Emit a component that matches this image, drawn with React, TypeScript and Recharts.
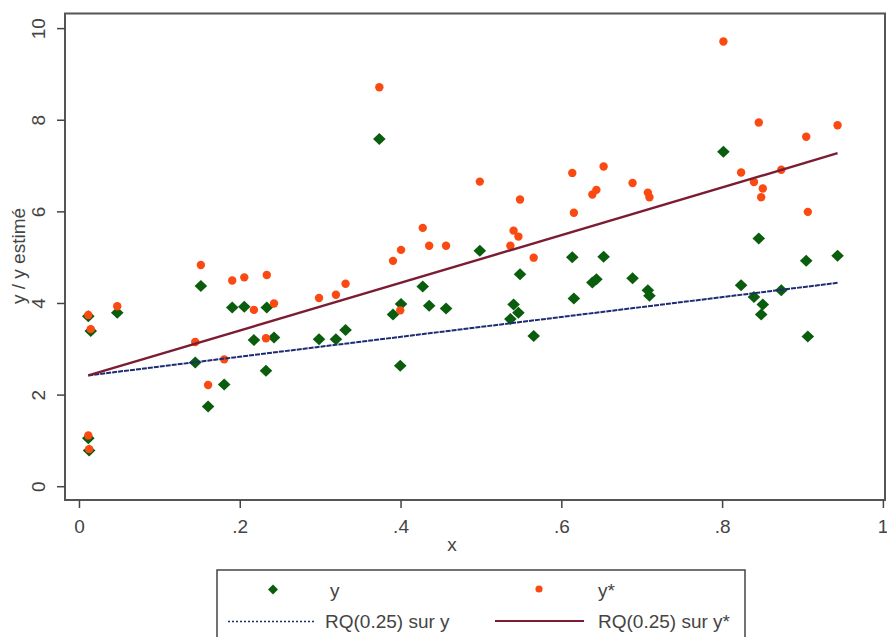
import React from "react";
import { ComposedChart, Scatter, XAxis, YAxis, ReferenceArea, Label } from "recharts";

const xValues = [0.011, 0.014, 0.047, 0.011, 0.012, 0.144, 0.151, 0.160, 0.180, 0.190, 0.205, 0.217, 0.232, 0.233, 0.242, 0.298, 0.319, 0.331, 0.373, 0.390, 0.399, 0.400, 0.427, 0.435, 0.456, 0.498, 0.536, 0.540, 0.546, 0.548, 0.565, 0.613, 0.615, 0.638, 0.643, 0.652, 0.688, 0.707, 0.709, 0.801, 0.823, 0.839, 0.845, 0.848, 0.850, 0.873, 0.904, 0.906, 0.943];
const yValues = [3.72, 3.40, 3.80, 1.06, 0.79, 2.71, 4.38, 1.75, 2.23, 3.91, 3.93, 3.20, 2.53, 3.91, 3.26, 3.22, 3.22, 3.42, 7.59, 3.76, 2.64, 3.99, 4.37, 3.95, 3.89, 5.15, 3.66, 3.98, 3.80, 4.64, 3.29, 5.01, 4.11, 4.46, 4.53, 5.02, 4.55, 4.29, 4.17, 7.31, 4.40, 4.14, 5.42, 3.76, 3.98, 4.29, 4.93, 3.28, 5.04];
const yStarValues = [3.75, 3.44, 3.94, 1.12, 0.82, 3.16, 4.84, 2.22, 2.78, 4.50, 4.57, 3.86, 3.24, 4.62, 4.00, 4.12, 4.19, 4.43, 8.72, 4.93, 3.85, 5.17, 5.65, 5.26, 5.26, 6.66, 5.26, 5.59, 5.46, 6.27, 5.00, 6.85, 5.98, 6.38, 6.48, 6.99, 6.63, 6.42, 6.32, 9.72, 6.86, 6.65, 7.95, 6.32, 6.51, 6.92, 7.64, 6.00, 7.89];

const fitX = [0.011, 0.943];
const fitY = [2.43, 4.45];
const fitYStar = [2.43, 7.28];

const xTicks = [0, 0.2, 0.4, 0.6, 0.8, 1];
const xTickLabels = ["0", ".2", ".4", ".6", ".8", "1"];
const yTicks = [0, 2, 4, 6, 8, 10];

const X_DOMAIN: [number, number] = [-0.018, 1.002];
const Y_DOMAIN: [number, number] = [-0.29, 10.33];

const FONT = "'Liberation Sans', Arial, sans-serif";
const TEXT_COLOR = "#444";
const GREEN = "#0b5d0e";
const ORANGE = "#fa4a12";
const NAVY = "#1d2c72";
const MAROON = "#7c1c32";

const dataY = xValues.map((x, i) => ({ x, y: yValues[i] }));
const dataYStar = xValues.map((x, i) => ({ x, y: yStarValues[i] }));
const dataFitY = fitX.map((x, i) => ({ x, y: fitY[i] }));
const dataFitYStar = fitX.map((x, i) => ({ x, y: fitYStar[i] }));

const Diamond = (props: any) => {
  const { cx, cy } = props;
  const w = 6.3;
  const h = 6.0;
  return (
    <polygon
      points={`${cx},${cy - h} ${cx + w},${cy} ${cx},${cy + h} ${cx - w},${cy}`}
      fill={GREEN}
    />
  );
};

const Dot = (props: any) => {
  const { cx, cy } = props;
  return <circle cx={cx} cy={cy} r={4.2} fill={ORANGE} />;
};

const NoShape = () => <g />;

const XTick = (props: any) => {
  const { x, y, payload } = props;
  const idx = xTicks.indexOf(payload.value);
  return (
    <text x={x} y={y + 23} textAnchor="middle" fontSize={19} fontFamily={FONT} fill={TEXT_COLOR}>
      {idx >= 0 ? xTickLabels[idx] : String(payload.value)}
    </text>
  );
};

const YTick = (props: any) => {
  const { x, y, payload } = props;
  const bx = x - 10;
  return (
    <text
      x={bx}
      y={y}
      transform={`rotate(-90 ${bx} ${y})`}
      textAnchor="middle"
      fontSize={19}
      fontFamily={FONT}
      fill={TEXT_COLOR}
    >
      {String(payload.value)}
    </text>
  );
};

export default function App() {
  return (
    <div style={{ position: "absolute", left: 0, top: 0, width: 887, height: 637, background: "#fff" }}>
      <ComposedChart
        width={887}
        height={637}
        margin={{ top: 13.5, right: 2, bottom: 77, left: 0 }}
      >
        <XAxis
          type="number"
          dataKey="x"
          domain={X_DOMAIN}
          ticks={xTicks}
          allowDataOverflow
          axisLine={false}
          tickSize={8}
          tickLine={{ stroke: "#444", strokeWidth: 1.5 }}
          tick={<XTick />}
          height={60}
        >
          <Label
            content={() => (
              <text x={452} y={551} textAnchor="middle" fontSize={19} fontFamily={FONT} fill={TEXT_COLOR}>
                x
              </text>
            )}
          />
        </XAxis>
        <YAxis
          type="number"
          dataKey="y"
          domain={Y_DOMAIN}
          ticks={yTicks}
          allowDataOverflow
          axisLine={false}
          tickSize={8}
          tickLine={{ stroke: "#444", strokeWidth: 1.5 }}
          tick={<YTick />}
          width={65}
        >
          <Label
            content={() => (
              <text
                x={25}
                y={256}
                transform="rotate(-90 25 256)"
                textAnchor="middle"
                fontSize={19}
                fontFamily={FONT}
                fill={TEXT_COLOR}
              >
                y / y estimé
              </text>
            )}
          />
        </YAxis>
        <ReferenceArea
          x1={X_DOMAIN[0]}
          x2={X_DOMAIN[1]}
          y1={Y_DOMAIN[0]}
          y2={Y_DOMAIN[1]}
          fill="none"
          fillOpacity={0}
          stroke="#555"
          strokeWidth={2}
          ifOverflow="visible"
        />
        <Scatter data={dataY} shape={<Diamond />} isAnimationActive={false} />
        <Scatter data={dataYStar} shape={<Dot />} isAnimationActive={false} />
        <Scatter
          data={dataFitY}
          shape={<NoShape />}
          line={{ stroke: NAVY, strokeWidth: 2, strokeDasharray: "5 1" }}
          isAnimationActive={false}
        />
        <Scatter
          data={dataFitYStar}
          shape={<NoShape />}
          line={{ stroke: MAROON, strokeWidth: 2.4 }}
          isAnimationActive={false}
        />
      </ComposedChart>
      <svg
        width={887}
        height={637}
        style={{ position: "absolute", left: 0, top: 0, pointerEvents: "none" }}
      >
        <rect x={217} y={570} width={528} height={90} fill="#fff" stroke="#444" strokeWidth={1.5} />
        <polygon points="273,584.5 278,589.5 273,594.5 268,589.5" fill={GREEN} />
        <text x={330} y={597} fontSize={19} fontFamily={FONT} fill={TEXT_COLOR}>y</text>
        <circle cx={539} cy={589} r={3.6} fill={ORANGE} />
        <text x={598} y={597} fontSize={19} fontFamily={FONT} fill={TEXT_COLOR}>y*</text>
        <line x1={228} y1={621.5} x2={316} y2={621.5} stroke={NAVY} strokeWidth={1.3} strokeDasharray="2 2" />
        <text x={325} y={628} fontSize={19} fontFamily={FONT} fill={TEXT_COLOR}>RQ(0.25) sur y</text>
        <line x1={495} y1={621} x2={584} y2={621} stroke={MAROON} strokeWidth={1.8} />
        <text x={598} y={628} fontSize={19} fontFamily={FONT} fill={TEXT_COLOR}>RQ(0.25) sur y*</text>
      </svg>
    </div>
  );
}
